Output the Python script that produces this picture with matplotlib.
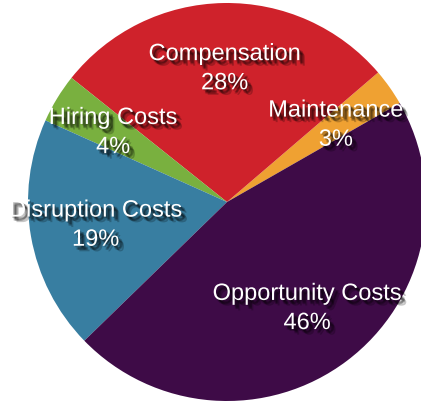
import numpy as np
import matplotlib
matplotlib.use('Agg')
import matplotlib.pyplot as plt
import matplotlib.patheffects as pe

# cost breakdown, counter-clockwise from the upper right
labels = ['Maintenance', 'Compensation', 'Hiring Costs', 'Disruption Costs', 'Opportunity Costs']
shares = [3, 28, 4, 19, 46]
colors = ['#EFA132', '#CF222B', '#79B03F', '#387EA1', '#3E0B47']

plt.rcParams['font.family'] = ['Liberation Sans', 'DejaVu Sans']

fig = plt.figure(figsize=(4.21, 4.06), dpi=100)
ax = fig.add_axes([0, 0, 1, 1])

wedges, _ = ax.pie(shares, colors=colors, startangle=29.8, counterclock=True,
                   radius=1.0, wedgeprops=dict(linewidth=0))

# soft drop shadow under the white labels (a few faint offset copies)
shadow = [pe.SimplePatchShadow(offset=(dx, -dy), shadow_rgbFace='black', alpha=0.22)
          for dx, dy in [(1, 1), (2, 2), (3, 3), (2, 3), (3, 2), (4, 4)]]
shadow.append(pe.Normal())

for w, name, val in zip(wedges, labels, shares):
    mid = np.deg2rad((w.theta1 + w.theta2) / 2)
    r = 0.67
    ax.text(r * np.cos(mid), r * np.sin(mid), '%s\n%d%%' % (name, val),
            ha='center', va='center', multialignment='center', color='white',
            fontsize=17, linespacing=1.42, path_effects=shadow)

# circle centre sits left of the middle, right edge clipped
ax.set_xlim(-227 / 199, (421 - 227) / 199)
ax.set_ylim(-203 / 199, 203 / 199)
ax.set_aspect('auto')
ax.axis('off')

fig.savefig('out.png', dpi=100)
